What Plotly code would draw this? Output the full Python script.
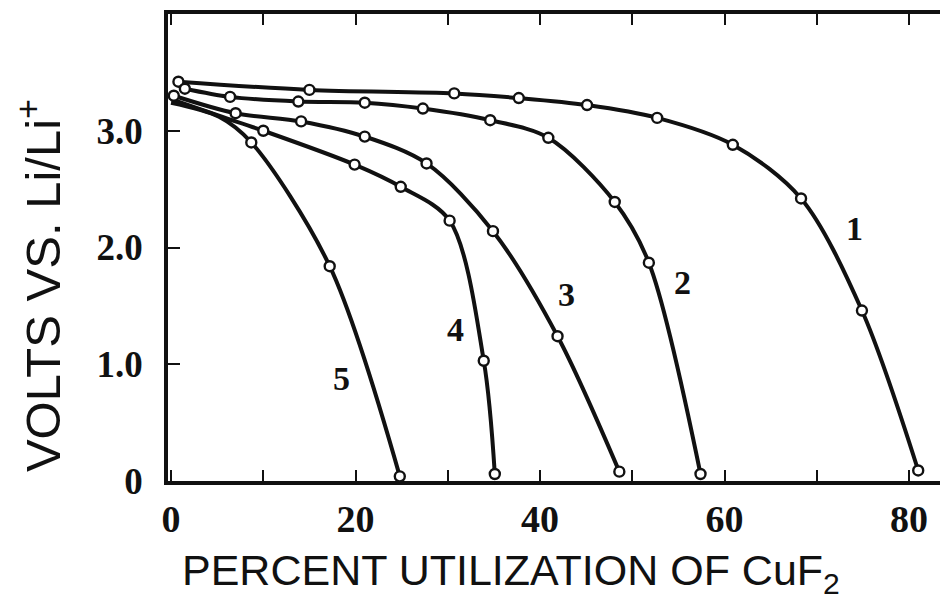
import plotly.graph_objects as go

# ---- data (percent utilization, volts) ----
c1_x = [0.8, 15.0, 30.7, 37.7, 45.1, 52.7, 60.9, 68.3, 74.9, 81.0]
c1_y = [3.42, 3.35, 3.32, 3.28, 3.22, 3.11, 2.88, 2.42, 1.46, 0.09]

c2_x = [1.5, 6.4, 13.8, 21.0, 27.3, 34.6, 40.9, 48.1, 51.8, 57.4]
c2_y = [3.36, 3.29, 3.25, 3.24, 3.19, 3.09, 2.94, 2.39, 1.87, 0.06]

c3_x = [0.3, 7.0, 14.1, 21.0, 27.7, 34.9, 41.9, 48.6]
c3_y = [3.30, 3.15, 3.08, 2.95, 2.72, 2.14, 1.24, 0.08]

c4_x = [0.0, 5.5, 10.0, 19.9, 24.9, 30.2, 33.9, 35.1]
c4_y = [3.27, 3.12, 3.00, 2.71, 2.52, 2.23, 1.03, 0.06]

c5_x = [0.0, 5.2, 8.7, 17.2, 24.8]
c5_y = [3.24, 3.12, 2.90, 1.84, 0.04]

# indices of the points drawn with an open-circle marker
c1_marks = list(range(10))
c2_marks = list(range(10))
c3_marks = [0, 1, 2, 3, 4, 5, 6, 7]
c4_marks = [2, 3, 4, 5, 6, 7]
c5_marks = [2, 3, 4]

curve_names = ["1", "2", "3", "4", "5"]
label_x = [74.1, 55.4, 42.9, 30.8, 18.5]
label_y = [2.16, 1.70, 1.60, 1.30, 0.88]

x_tickvals = [0, 10, 20, 30, 40, 50, 60, 70, 80]
x_ticktext = ["0", "", "20", "", "40", "", "60", "", "80"]
y_tickvals = [0, 1, 2, 3]
y_ticktext = ["0", "1.0", "2.0", "3.0"]

x_title = "PERCENT UTILIZATION OF CuF<sub>2</sub>"
y_title = "VOLTS VS. Li/Li<sup>+</sup>"

curves = [
    (c1_x, c1_y, c1_marks),
    (c2_x, c2_y, c2_marks),
    (c3_x, c3_y, c3_marks),
    (c4_x, c4_y, c4_marks),
    (c5_x, c5_y, c5_marks),
]

fig = go.Figure()
for xs, ys, marks in curves:
    fig.add_trace(go.Scatter(
        x=xs, y=ys, mode="lines",
        line=dict(color="#111111", width=4, shape="spline", smoothing=0.9),
        hoverinfo="skip", showlegend=False,
    ))
for xs, ys, marks in curves:
    fig.add_trace(go.Scatter(
        x=[xs[i] for i in marks], y=[ys[i] for i in marks], mode="markers",
        marker=dict(symbol="circle", size=10, color="white",
                    line=dict(color="#111111", width=2.4)),
        showlegend=False,
    ))

x_tick_font = dict(family="Liberation Serif", size=38, color="#111111", weight="bold")
y_tick_font = dict(family="Liberation Serif", size=37, color="#111111", weight="bold")
label_font = dict(family="Liberation Serif", size=34, color="#111111", weight="bold")

for name, lx, ly in zip(curve_names, label_x, label_y):
    fig.add_annotation(x=lx, y=ly, text=name, showarrow=False, font=label_font)

fig.add_annotation(xref="paper", yref="paper", x=0.44, y=-0.197, text=x_title,
                   showarrow=False,
                   font=dict(family="Liberation Sans", size=43, color="#111111"),
                   xanchor="center", yanchor="middle")
fig.add_annotation(xref="paper", yref="paper", x=-0.165, y=0.418, text=y_title,
                   showarrow=False,
                   font=dict(family="Liberation Sans", size=49, color="#111111"),
                   textangle=-90, xanchor="center", yanchor="middle")

# the page body has an 8 px margin, so the figure is 8 px smaller each way
fig.update_layout(
    width=940, height=600,
    margin=dict(l=160, r=0, t=6, b=127),
    paper_bgcolor="white", plot_bgcolor="white",
    xaxis=dict(range=[-0.33, 84.23], showgrid=False, zeroline=False,
               showline=True, linecolor="#111111", linewidth=3.5, mirror="ticks",
               ticks="inside", ticklen=11, tickwidth=2, tickcolor="#111111",
               tickvals=x_tickvals, ticktext=x_ticktext,
               tickfont=x_tick_font, ticklabelstandoff=2),
    yaxis=dict(range=[0, 4.0], showgrid=False, zeroline=False,
               showline=True, linecolor="#111111", linewidth=3.5,
               ticks="inside", ticklen=12, tickwidth=2, tickcolor="#111111",
               tickvals=y_tickvals, ticktext=y_ticktext,
               tickfont=y_tick_font, ticklabelstandoff=14),
    yaxis2=dict(range=[0, 4.0], overlaying="y", side="right", showgrid=False,
                zeroline=False, showline=False, ticks="inside", ticklen=8,
                tickwidth=2, tickcolor="#111111", tickvals=y_tickvals,
                showticklabels=False),
)

fig.write_html("out.html")
